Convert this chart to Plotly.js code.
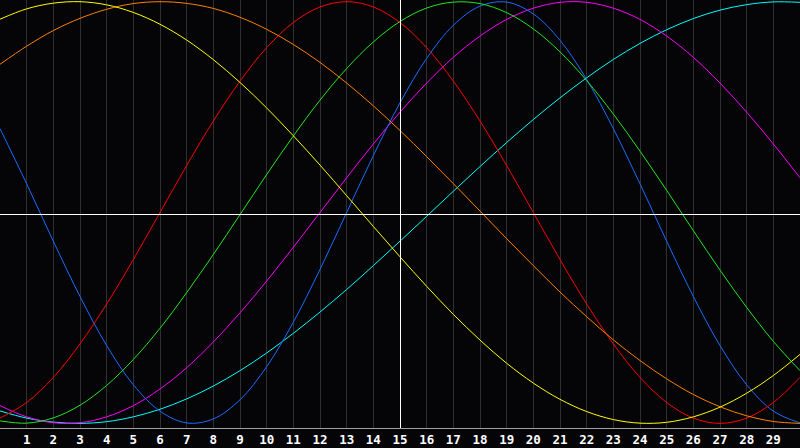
<!DOCTYPE html>
<html>
<head>
<meta charset="utf-8">
<script src="https://cdn.plot.ly/plotly-3.0.1.min.js"></script>
<style>
  html, body { margin: 0; padding: 0; background: #050508; }
  #chart { width: 800px; height: 448px; }
</style>
</head>
<body>
<div id="chart"></div>
<script>
// Days 0..30 across the window; values at each whole day.
const days = [0, 1, 2, 3, 4, 5, 6, 7, 8, 9, 10, 11, 12, 13, 14, 15,
              16, 17, 18, 19, 20, 21, 22, 23, 24, 25, 26, 27, 28, 29, 30]
const dayLabels = [1, 2, 3, 4, 5, 6, 7, 8, 9, 10, 11, 12, 13, 14, 15,
                   16, 17, 18, 19, 20, 21, 22, 23, 24, 25, 26, 27, 28, 29]

const blueValues = [0.398, 0.136, -0.136, -0.398, -0.631, -0.817, -0.942, -0.998, -0.979, -0.888,
                    -0.731, -0.520, -0.270, 0.000, 0.270, 0.520, 0.731, 0.888, 0.979, 0.998,
                    0.942, 0.817, 0.631, 0.398, 0.136, -0.136, -0.398, -0.631, -0.817, -0.942, -0.998]
const redValues = [-0.975, -0.901, -0.782, -0.623, -0.434, -0.223, 0.000, 0.223, 0.434, 0.623,
                   0.782, 0.901, 0.975, 1.000, 0.975, 0.901, 0.782, 0.623, 0.434, 0.223,
                   0.000, -0.223, -0.434, -0.623, -0.782, -0.901, -0.975, -1.000, -0.975, -0.901, -0.782]
const greenValues = [-0.988, -0.999, -0.974, -0.914, -0.820, -0.697, -0.549, -0.380, -0.199, -0.010,
                     0.180, 0.363, 0.533, 0.683, 0.809, 0.906, 0.970, 0.998, 0.991, 0.948,
                     0.871, 0.762, 0.626, 0.467, 0.291, 0.105, -0.086, -0.273, -0.450, -0.611, -0.750]
const magentaValues = [-0.916, -0.969, -0.997, -0.997, -0.969, -0.916, -0.837, -0.736, -0.614, -0.476,
                       -0.325, -0.165, 0.000, 0.165, 0.325, 0.476, 0.614, 0.736, 0.837, 0.916,
                       0.969, 0.997, 0.997, 0.969, 0.916, 0.837, 0.736, 0.614, 0.476, 0.325, 0.165]
const yellowValues = [0.917, 0.966, 0.993, 1.000, 0.985, 0.949, 0.893, 0.818, 0.725, 0.617,
                      0.496, 0.364, 0.225, 0.080, -0.066, -0.210, -0.350, -0.483, -0.605, -0.715,
                      -0.809, -0.886, -0.944, -0.982, -0.999, -0.995, -0.969, -0.923, -0.857, -0.773, -0.673]
const orangeValues = [0.703, 0.789, 0.863, 0.921, 0.964, 0.991, 1.000, 0.992, 0.968, 0.926,
                      0.869, 0.797, 0.712, 0.614, 0.506, 0.389, 0.265, 0.137, 0.007, -0.124,
                      -0.252, -0.377, -0.494, -0.604, -0.702, -0.789, -0.863, -0.921, -0.964, -0.991, -1.000]
const cyanValues = [-0.941, -0.975, -0.994, -1.000, -0.992, -0.969, -0.933, -0.884, -0.823, -0.750,
                    -0.666, -0.573, -0.472, -0.365, -0.252, -0.136, -0.018, 0.101, 0.218, 0.332,
                    0.441, 0.544, 0.639, 0.726, 0.802, 0.867, 0.920, 0.960, 0.986, 0.999, 0.997]

const series = [
  { values: cyanValues, color: "#00ffff" },
  { values: magentaValues, color: "#ff00ff" },
  { values: blueValues, color: "#1a6cff" },
  { values: greenValues, color: "#22e622" },
  { values: redValues, color: "#ff0000" },
  { values: orangeValues, color: "#ff8000" },
  { values: yellowValues, color: "#ffff00" }
]

const traces = series.map((s) => ({
  x: days,
  y: s.values,
  type: "scatter",
  mode: "lines",
  line: { color: s.color, width: 1, shape: "spline", smoothing: 1 },
  hoverinfo: "skip"
}))

Plotly.newPlot("chart", traces, {
  width: 800,
  height: 448,
  paper_bgcolor: "#050508",
  plot_bgcolor: "#050508",
  showlegend: false,
  margin: { l: 0, r: 0, t: 0, b: 20 },
  xaxis: {
    range: [0, 30],
    tickvals: dayLabels,
    ticktext: dayLabels.map(String),
    ticks: "",
    showgrid: true,
    gridcolor: "#303030",
    gridwidth: 1,
    zeroline: false,
    showline: true,
    linecolor: "#a0a0a0",
    linewidth: 1,
    mirror: true,
    tickfont: { family: "'DejaVu Sans Mono', monospace", size: 12.5, color: "#ffffff", weight: "bold" },
    fixedrange: true
  },
  yaxis: {
    range: [-1.022, 1.008],
    showticklabels: false,
    ticks: "",
    showgrid: false,
    zeroline: false,
    showline: true,
    linecolor: "#a0a0a0",
    linewidth: 1,
    mirror: true,
    fixedrange: true
  },
  // 中央の白い十字(15日目と振幅0)。グリッドに隠れないよう最前面に、半ピクセルずらして描く
  shapes: [
    { type: "line", xref: "x", yref: "paper", x0: 15.01875, x1: 15.01875, y0: 0, y1: 1,
      line: { color: "#ffffff", width: 1 }, layer: "above" },
    { type: "line", xref: "paper", yref: "paper", x0: 0, x1: 1, y0: 0.49883, y1: 0.49883,
      line: { color: "#ffffff", width: 1 }, layer: "above" }
  ]
}, { displayModeBar: false, staticPlot: true })
</script>
</body>
</html>
